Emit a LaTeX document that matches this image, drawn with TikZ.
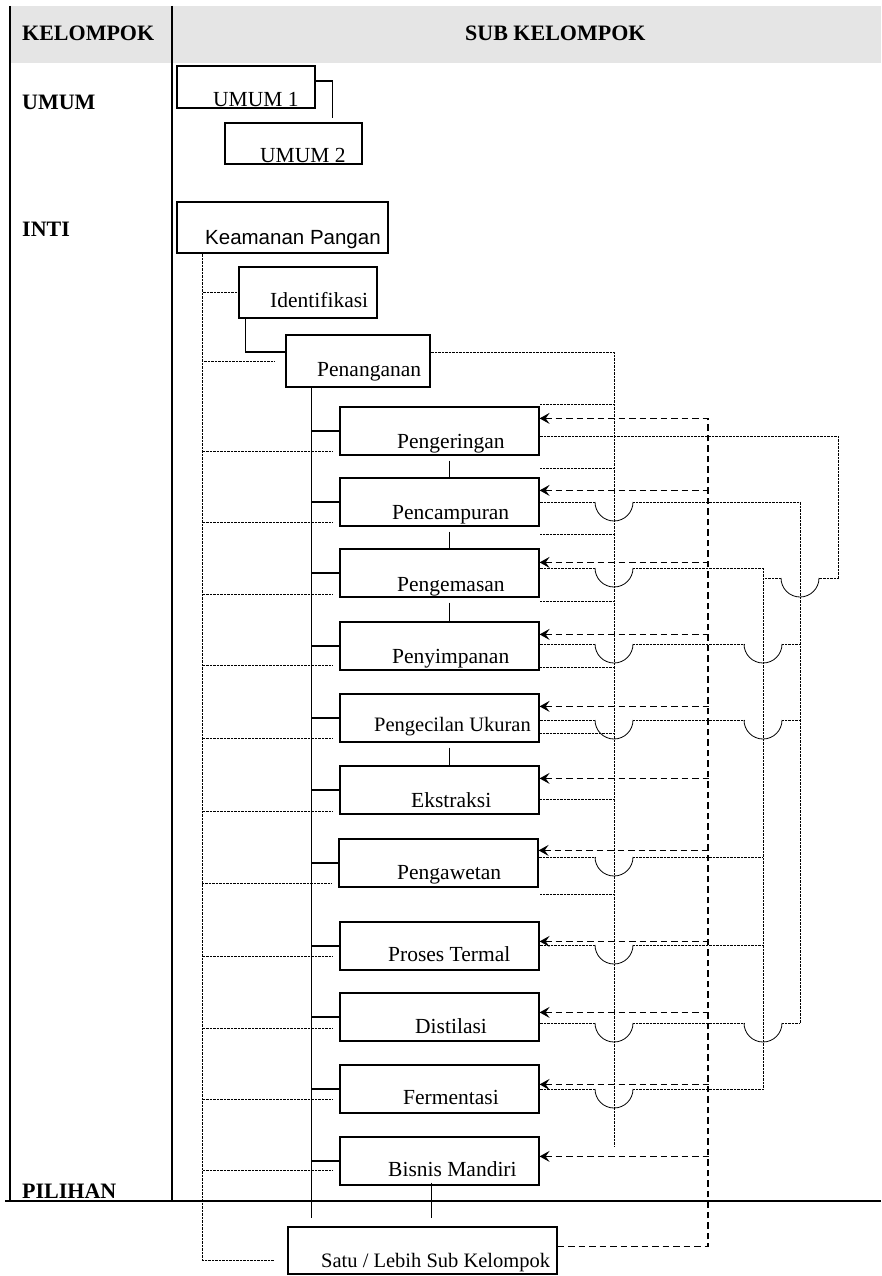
\documentclass[tikz,border=0pt]{standalone}
\usepackage{fontspec}
\setmainfont{Liberation Serif}
\newfontfamily\sansf{Liberation Sans}
\usetikzlibrary{arrows.meta}
\tikzset{
  box/.style={draw,line width=1.2pt,inner sep=0pt},
  sub/.style={box,minimum width=199pt,minimum height=48pt},
  txt/.style={inner sep=0pt,anchor=base west,font=\fontsize{21.5}{25}\selectfont},
  head/.style={inner sep=0pt,anchor=base west,font=\fontsize{22}{26}\selectfont\bfseries},
  dotline/.style={line width=1pt,dash pattern=on .9pt off .5pt},
  dashline/.style={line width=1.1pt,dash pattern=on 6.5pt off 4pt},
  hop/.style={line width=.8pt},
  link/.style={line width=1.1pt}
}
\begin{document}
\begin{tikzpicture}[x=1pt,y=-1pt,line join=miter,>={Stealth[length=10pt,width=11pt,inset=4pt]}]
\useasboundingbox (0,0) rectangle (881,1276);
% table frame
\fill[gray!20] (10,6) rectangle (881,63);
\draw[line width=2pt] (10,6) -- (10,1201);
\draw[line width=1.3pt] (172,6) -- (172,1201);
\draw[line width=2pt] (5,1201) -- (881,1201);
\node[head] (kel) at (22,41) {KELOMPOK};
\node[head] (subkel) at (465,41) {SUB KELOMPOK};
\node[head] (umum) at (22,110) {UMUM};
\node[head] (inti) at (22,236) {INTI};
\node[head] (pilihan) at (22,1198) {PILIHAN};

% boxes
\node[box,minimum width=138pt,minimum height=42pt] (umum1) at (246,87) {};
\node[box,minimum width=137pt,minimum height=41pt] (umum2) at (293.5,143.5) {};
\node[box,minimum width=211pt,minimum height=51pt] (aman) at (282.5,227.5) {};
\node[box,minimum width=138pt,minimum height=51pt] (ident) at (308,292.5) {};
\node[box,minimum width=144pt,minimum height=52pt] (penang) at (358,361) {};
\node[sub] (kering) at (439.5,431) {};
\node[sub] (campur) at (439.5,502) {};
\node[sub] (kemas) at (439.5,573) {};
\node[sub] (simpan) at (439.5,646) {};
\node[sub] (kecil) at (439.5,718) {};
\node[sub] (ekstrak) at (439.5,790) {};
\node[sub] (awet) at (438.5,863) {};
\node[sub] (termal) at (439.5,946) {};
\node[sub] (distil) at (439.5,1017) {};
\node[sub] (ferment) at (439.5,1089) {};
\node[sub] (bisnis) at (439.5,1161) {};
\node[box,minimum width=269pt,minimum height=47pt] (satu) at (422.5,1250.5) {};

% box texts
\node[txt] (t-umum1) at (213,107) {UMUM 1};
\node[txt] (t-umum2) at (260,163) {UMUM 2};
\node[txt,font=\fontsize{20.5}{25}\sansf] (t-aman) at (205,244) {Keamanan Pangan};
\node[txt] (t-ident) at (270,307) {Identifikasi};
\node[txt] (t-penang) at (317,376) {Penanganan};
\node[txt] (t-kering) at (397,448) {Pengeringan};
\node[txt] (t-campur) at (392,519) {Pencampuran};
\node[txt] (t-kemas) at (397,591) {Pengemasan};
\node[txt] (t-simpan) at (392,663) {Penyimpanan};
\node[txt,font=\fontsize{20.5}{25}\selectfont] (t-kecil) at (374,731) {Pengecilan Ukuran};
\node[txt] (t-ekstrak) at (411,807) {Ekstraksi};
\node[txt] (t-awet) at (397,879) {Pengawetan};
\node[txt] (t-termal) at (388,961) {Proses Termal};
\node[txt] (t-distil) at (415,1033) {Distilasi};
\node[txt] (t-ferment) at (403,1104) {Fermentasi};
\node[txt] (t-bisnis) at (388,1176) {Bisnis Mandiri};
\node[txt,font=\fontsize{20.5}{25}\selectfont] (t-satu) at (321,1267) {Satu / Lebih Sub Kelompok};

% solid links
\draw[link] ([yshift=6pt]umum1.east) -- ++(17,0) -- ++(0,37);
\draw[link] ([xshift=7pt]ident.south west) |- ([yshift=9pt]penang.west);
\draw[link] ([xshift=26pt]penang.south west) coordinate (spine) -- ++(0,830);
\foreach \b in {kering,campur,kemas,simpan,kecil,ekstrak,awet,termal,distil,ferment,bisnis}
  \draw[link] (\b.west) -- (\b.west -| spine);
\foreach \a/\b in {kering/campur,campur/kemas,kemas/simpan,kecil/ekstrak}
  \draw[link,shorten <=5pt] ([xshift=10pt]\a.south) -- ([xshift=10pt]\b.north);
\draw[link] ([xshift=-8pt,yshift=3pt]bisnis.south) -- ++(0,35);

% dotted spine on the left
\draw[dotline] ([xshift=26pt]aman.south west) |- ([xshift=-13pt,yshift=-10pt]satu.west);
\draw[dotline] (ident.west) -- ++(-36,0);
\draw[dotline] ([xshift=-11pt]penang.west) -- ++(-72,0);
\foreach \b/\d in {kering/4,campur/4,kemas/3,simpan/5,kecil/4,ekstrak/3,awet/4,termal/14,distil/13,ferment/14,bisnis/15}
  \draw[dotline] ([xshift=-7pt,yshift=\d pt]\b.south west) -- ++(-130,0);

% dotted bus from Penanganan
\draw[dotline] ([yshift=9pt]penang.east) -| (614,1147);
\foreach \y in {404,468,534,601,667,733,799,894}
  \draw[dotline] (540,\y) -- (614,\y);

% dashed bus from Satu / Lebih Sub Kelompok
\draw[dashline] ([yshift=4pt]satu.east) -| (708,419);
\foreach \b/\d in {kering/12,campur/13,kemas/14,simpan/13,kecil/13,ekstrak/13,awet/12,termal/20,distil/20,ferment/20,bisnis/20}
  \draw[dashline,<-] ([yshift=-\d pt]\b.north east) -- ++(169,0);

% outputs to the bus at x=763
\draw[dotline] (763,568) -- (763,1089);
\foreach \b/\y in {kemas/568,awet/857,termal/945,ferment/1089}{
  \draw[dotline] (\b.east |- 0,\y) -- (595,\y);
  \draw[hop] (595,\y) arc (180:360:19pt);
  \draw[dotline] (633,\y) -- (763,\y);
}
% outputs to the bus at x=800
\draw[dotline] (campur.east |- 0,502) -- (595,502);
\draw[hop] (595,502) arc (180:360:19pt);
\draw[dotline] (633,502) -| (800,1023);
\foreach \b/\y in {simpan/644,kecil/720,distil/1023}{
  \draw[dotline] (\b.east |- 0,\y) -- (595,\y);
  \draw[hop] (595,\y) arc (180:360:19pt);
  \draw[dotline] (633,\y) -- (744,\y);
  \draw[hop] (744,\y) arc (180:360:19pt);
  \draw[dotline] (782,\y) -- (800,\y);
}
% Pengeringan round the right side
\draw[dotline] (kering.east |- 0,436) -| (838,578) -- (819,578);
\draw[hop] (819,578) arc (0:-180:19pt);
\draw[dotline] (781,578) -- (763,578);
\end{tikzpicture}
\end{document}
